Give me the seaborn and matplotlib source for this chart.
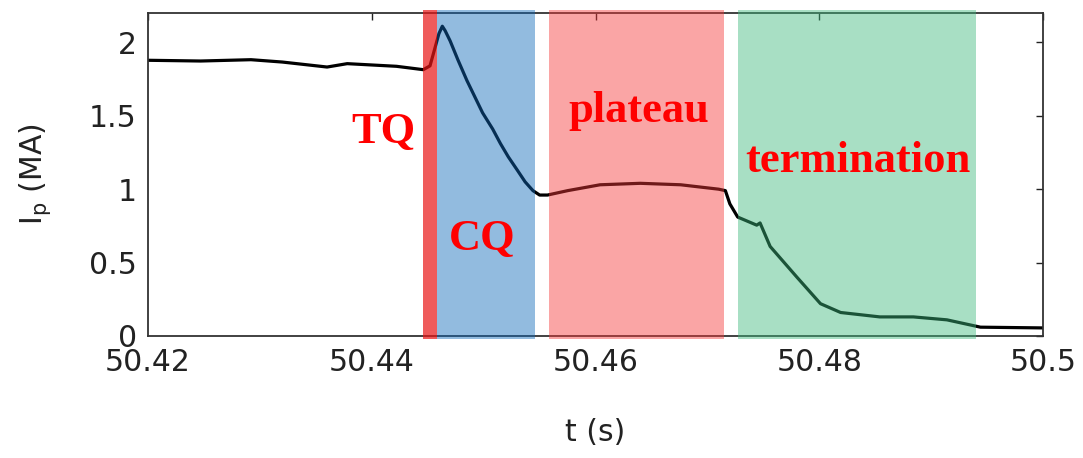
import numpy as np
import pandas as pd
import matplotlib
matplotlib.use("Agg")
import matplotlib.pyplot as plt
import seaborn as sns

# ---- data ----
t_s = [50.4200, 50.4247, 50.4292, 50.4320, 50.4360, 50.4378, 50.4422, 50.4446,
       50.4452, 50.4456, 50.4460, 50.4463, 50.44655, 50.4470, 50.4477, 50.4485,
       50.4492, 50.4499, 50.4508, 50.4515, 50.4522, 50.4530, 50.4537, 50.4544,
       50.4550, 50.4557, 50.4575, 50.4604, 50.4640, 50.4676,
       50.4710, 50.4716, 50.4720, 50.4727, 50.4744, 50.4747, 50.4756, 50.4780,
       50.4801, 50.4819, 50.4854, 50.4884, 50.4914, 50.4944, 50.5000]
ip_MA = [1.878, 1.873, 1.882, 1.866, 1.832, 1.855, 1.837, 1.814,
         1.84, 1.95, 2.06, 2.11, 2.08, 2.01, 1.88, 1.74,
         1.63, 1.52, 1.41, 1.31, 1.22, 1.13, 1.05, 0.99,
         0.96, 0.96, 0.99, 1.03, 1.04, 1.03,
         1.00, 0.99, 0.90, 0.81, 0.755, 0.77, 0.61, 0.40,
         0.22, 0.16, 0.13, 0.13, 0.11, 0.06, 0.055]

phase_names = ["TQ", "CQ", "plateau", "termination"]
phase_start = [50.4446, 50.4458, 50.4558, 50.4727]
phase_end = [50.4458, 50.4546, 50.4715, 50.4940]
phase_colors = ["#E91616", "#0F68BA", "#F63939", "#3EBA7E"]
phase_alpha = [0.70, 0.45, 0.45, 0.45]
label_x = [50.4410, 50.4499, 50.4639, 50.4834]
label_y = [1.313, 0.585, 1.456, 1.116]

x_ticks = [50.42, 50.44, 50.46, 50.48, 50.50]
x_ticklabels = ["50.42", "50.44", "50.46", "50.48", "50.5"]
y_ticks = [0, 0.5, 1, 1.5, 2]
y_ticklabels = ["0", "0.5", "1", "1.5", "2"]

df = pd.DataFrame({"t": t_s, "Ip": ip_MA})

sns.set_style("white")
plt.rcParams["font.family"] = ["DejaVu Sans"]

fig = plt.figure(figsize=(10.83, 4.58), dpi=100)
ax = fig.add_axes([0.1367, 0.2664, 0.8265, 0.7052])

sns.lineplot(data=df, x="t", y="Ip", ax=ax, color="black", linewidth=2.3, zorder=2)

for s, e, c, a in zip(phase_start, phase_end, phase_colors, phase_alpha):
    ax.axvspan(s, e, ymin=-0.008, ymax=1.008, color=c, alpha=a, lw=0,
               zorder=3, clip_on=False)

for name, x, y in zip(phase_names, label_x, label_y):
    ax.text(x, y, name, color="#FF0000", fontsize=32, fontweight="bold",
            family="Liberation Serif", ha="center", va="baseline", zorder=5)

ax.set_xlim(50.42, 50.50)
ax.set_ylim(0, 2.2)
ax.set_xticks(x_ticks)
ax.set_xticklabels(x_ticklabels)
ax.set_yticks(y_ticks)
ax.set_yticklabels(y_ticklabels)
ax.tick_params(direction="in", length=5, width=1, labelsize=21.5,
               top=True, right=True, colors="#222222", pad=9)
ax.tick_params(axis="y", pad=8)

for sp in ax.spines.values():
    sp.set_color("#333333")
    sp.set_linewidth(1.3)
    sp.set_visible(True)

ax.set_xlabel("t (s)", fontsize=21.5, color="#222222")
ax.set_ylabel(r"I$_\mathregular{p}$ (MA)", fontsize=21.5, color="#222222")
ax.xaxis.set_label_coords(0.5, -0.30)
ax.yaxis.set_label_coords(-0.126, 0.5)
ax.xaxis.label.set_va("center")
ax.yaxis.label.set_va("center")

fig.savefig("out.png", dpi=100)
